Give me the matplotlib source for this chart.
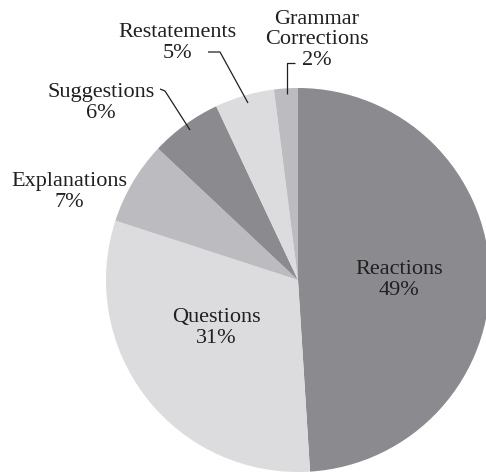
import matplotlib
matplotlib.use("Agg")
import matplotlib.pyplot as plt

categories = ["Reactions", "Questions", "Explanations", "Suggestions", "Restatements", "Grammar\nCorrections"]
values = [49, 31, 7, 6, 5, 2]
colors = ["#8b8b8f", "#dcdcde", "#bcbcc0", "#8b8b8f", "#dcdcde", "#bcbcc0"]

# pixel layout helpers
CX, CY, R = 298.0, 280.0, 192.0
W, H = 486, 475

def d(px, py):
    return ((px - CX) / R, (CY - py) / R)

fig = plt.figure(figsize=(W / 100, H / 100), dpi=100)
ax = fig.add_axes([0, 0, 1, 1])

ax.pie(values, colors=colors, startangle=90, counterclock=False, radius=1,
       center=(0, 0), wedgeprops=dict(linewidth=0))

ax.set_xlim((0 - CX) / R, (W - CX) / R)
ax.set_ylim((CY - H) / R, CY / R)
ax.set_aspect("equal")
ax.axis("off")

label_px = [(399, 280), (216, 328), (69, 192), (101, 103), (177, 43), (317, 40)]
font = dict(family="Liberation Serif", fontsize=16, color="#231f20",
            ha="center", va="center", linespacing=1.13)
for cat, v, (px, py) in zip(categories, values, label_px):
    x, y = d(px, py)
    ax.text(x, y, f"{cat}\n{v}%", **font)

leaders = [
    [(160, 89), (165, 91), (190, 130)],
    [(208, 52), (220, 52), (248, 103)],
    [(295, 63), (287, 63), (287, 94)],
]
for pts in leaders:
    xs, ys = zip(*[d(p, q) for p, q in pts])
    ax.plot(xs, ys, color="#231f20", lw=0.9, solid_capstyle="butt")

fig.savefig("out.png", dpi=100)
